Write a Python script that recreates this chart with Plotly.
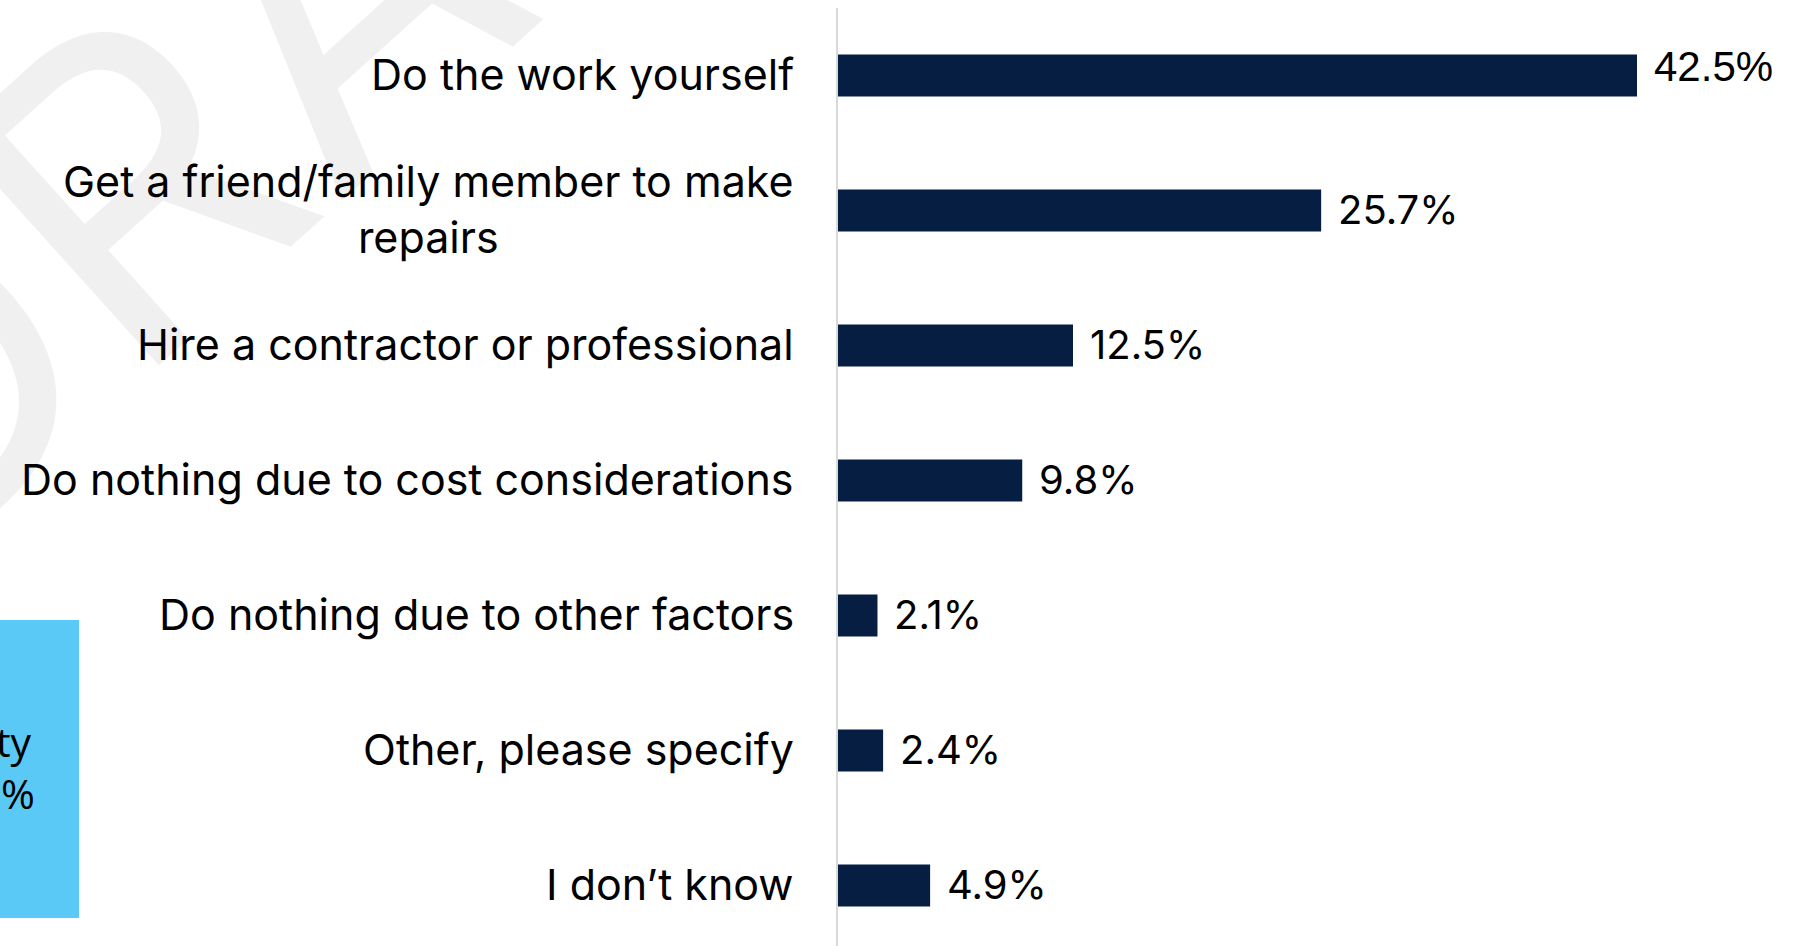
import math
import plotly.graph_objects as go

# Survey responses (share of respondents, %)
categories = [
    "Do the work yourself",
    "Get a friend/family member to make<br>repairs",
    "Hire a contractor or professional",
    "Do nothing due to cost considerations",
    "Do nothing due to other factors",
    "Other, please specify",
    "I don\u2019t know",
]
values = [42.5, 25.7, 12.5, 9.8, 2.1, 2.4, 4.9]

W, H = 1805, 946
L, R, T, B = 838, 0, 8, 0
PW, PH = W - L - R, H - T - B
PX_PER_UNIT = 18.8
ROW = 135.0


def px_x(px):
    return (px - L) / PW


def px_y(py):
    return 1 - (py - T) / PH


NAVY = "#051E42"
FONT = "Inter"

fig = go.Figure()
fig.add_trace(go.Bar(
    x=values,
    y=categories,
    orientation="h",
    marker=dict(color=NAVY, line=dict(width=0)),
    cliponaxis=False,
    hoverinfo="skip",
))

# faint "DRAFT" stamp across the upper left, placed along a 42 degree baseline
ang = math.radians(42)
base_x, base_y = 160, 363          # foot of the R stem
along, lift = 352, 154             # word centre: distance along baseline, height above it
cx = base_x + along * math.cos(ang) - lift * math.sin(ang)
cy = base_y - along * math.sin(ang) - lift * math.cos(ang)
annotations = [
    dict(text="DRAFT", xref="paper", yref="paper", x=px_x(cx), y=px_y(cy),
         xanchor="center", yanchor="middle", textangle=-42, showarrow=False,
         font=dict(family=FONT, size=424, color="#F0F0F0")),
]

# category labels, right-aligned against the axis, wrapped lines centred
for c in categories:
    annotations.append(dict(
        text=c, xref="paper", yref="y", x=0, y=c, xshift=-42, yshift=2,
        xanchor="right", yanchor="middle", align="center", showarrow=False,
        font=dict(family=FONT, size=43, color="#000000"),
    ))

# value labels at the end of each bar
for i, (c, v) in enumerate(zip(categories, values)):
    lead = i == 0
    annotations.append(dict(
        text=f"{v:.1f}%", xref="x", yref="y", x=v, y=c,
        xshift=15, yshift=9 if lead else 1,
        xanchor="left", yanchor="middle", showarrow=False,
        font=dict(family="Liberation Sans" if lead else FONT,
                  size=42 if lead else 40, color="#000000"),
    ))

# text inside the blue side panel
annotations.append(dict(text="ty", xref="paper", yref="paper", x=px_x(34), y=px_y(741),
                        xanchor="right", yanchor="middle", showarrow=False,
                        font=dict(family="Open Sans", size=41, color="#000000")))
annotations.append(dict(text="%", xref="paper", yref="paper", x=px_x(37), y=px_y(793),
                        xanchor="right", yanchor="middle", showarrow=False,
                        font=dict(family="Open Sans", size=41, color="#000000")))

fig.update_layout(
    width=W, height=H,
    margin=dict(l=L, r=R, t=T, b=B, pad=0),
    paper_bgcolor="white", plot_bgcolor="white",
    showlegend=False,
    bargap=1 - 42 / ROW,
    xaxis=dict(visible=False, range=[0, PW / PX_PER_UNIT], fixedrange=True),
    yaxis=dict(
        categoryorder="array", categoryarray=categories,
        range=[PH / ROW - 0.5, -0.5],
        showline=True, linecolor="#D9D9D9", linewidth=2,
        showticklabels=False, ticks="", showgrid=False, zeroline=False,
    ),
    shapes=[dict(type="rect", xref="paper", yref="paper",
                 x0=px_x(-5), x1=px_x(79), y0=px_y(918), y1=px_y(620),
                 fillcolor="#5BC9F5", line=dict(width=0), layer="below")],
    annotations=annotations,
)

fig.write_html("out.html")
